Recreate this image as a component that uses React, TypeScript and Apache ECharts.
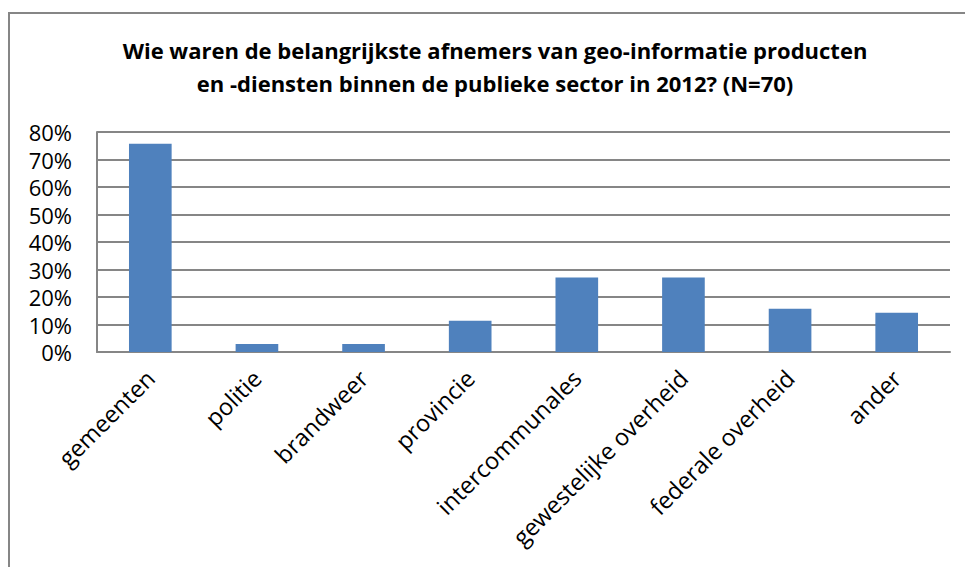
import React, { useEffect, useRef } from "react";
import * as echarts from "echarts";

const titleLines = [
  "Wie waren de belangrijkste afnemers van geo-informatie producten",
  "en -diensten binnen de publieke sector in 2012? (N=70)",
];
const categories = [
  "gemeenten",
  "politie",
  "brandweer",
  "provincie",
  "intercommunales",
  "gewestelijke overheid",
  "federale overheid",
  "ander",
];
const values = [75.7, 2.9, 2.9, 11.4, 27.1, 27.1, 15.7, 14.3];
const yMin = 0;
const yMax = 80;
const yStep = 10;

const FONT = "'Open Sans', Lato, sans-serif";

export default function App() {
  const ref = useRef<HTMLDivElement>(null);
  useEffect(() => {
    if (!ref.current) return;
    const chart = echarts.init(ref.current, undefined, { renderer: "svg" });
    chart.setOption({
      animation: false,
      backgroundColor: "#ffffff",
      title: {
        text: titleLines.join("\n"),
        left: 495,
        top: 33,
        padding: 0,
        textAlign: "center",
        textStyle: {
          fontFamily: FONT,
          fontWeight: "bold",
          fontSize: 22,
          lineHeight: 33,
          color: "#000",
        },
      },
      graphic: [
        {
          type: "polyline",
          shape: { points: [[9, 600], [9, 13], [1000, 13]] },
          style: { stroke: "#868686", lineWidth: 2, fill: null },
          silent: true,
        },
      ],
      grid: { left: 97, right: 15, top: 132, bottom: 215, containLabel: false },
      xAxis: {
        type: "category",
        data: categories,
        axisLine: { lineStyle: { color: "#868686", width: 2 } },
        axisTick: { show: false },
        axisLabel: {
          rotate: 45,
          interval: 0,
          margin: 22,
          fontFamily: FONT,
          fontSize: 23.5,
          lineHeight: 24,
          color: "#000",
        },
      },
      yAxis: {
        type: "value",
        min: yMin,
        max: yMax,
        interval: yStep,
        axisLine: { show: true, lineStyle: { color: "#868686", width: 2 } },
        axisTick: { show: false },
        splitLine: { lineStyle: { color: "#868686", width: 2 } },
        axisLabel: {
          formatter: (v: number) => `${v}%`,
          margin: 25,
          fontFamily: FONT,
          fontSize: 22,
          lineHeight: 22,
          color: "#000",
        },
      },
      series: [
        {
          type: "bar",
          data: values,
          barWidth: "40%",
          itemStyle: { color: "#4F81BD" },
        },
      ],
    });
    return () => chart.dispose();
  }, []);
  return (
    <div
      ref={ref}
      style={{ position: "fixed", left: 0, top: 0, width: 965, height: 567 }}
    />
  );
}
